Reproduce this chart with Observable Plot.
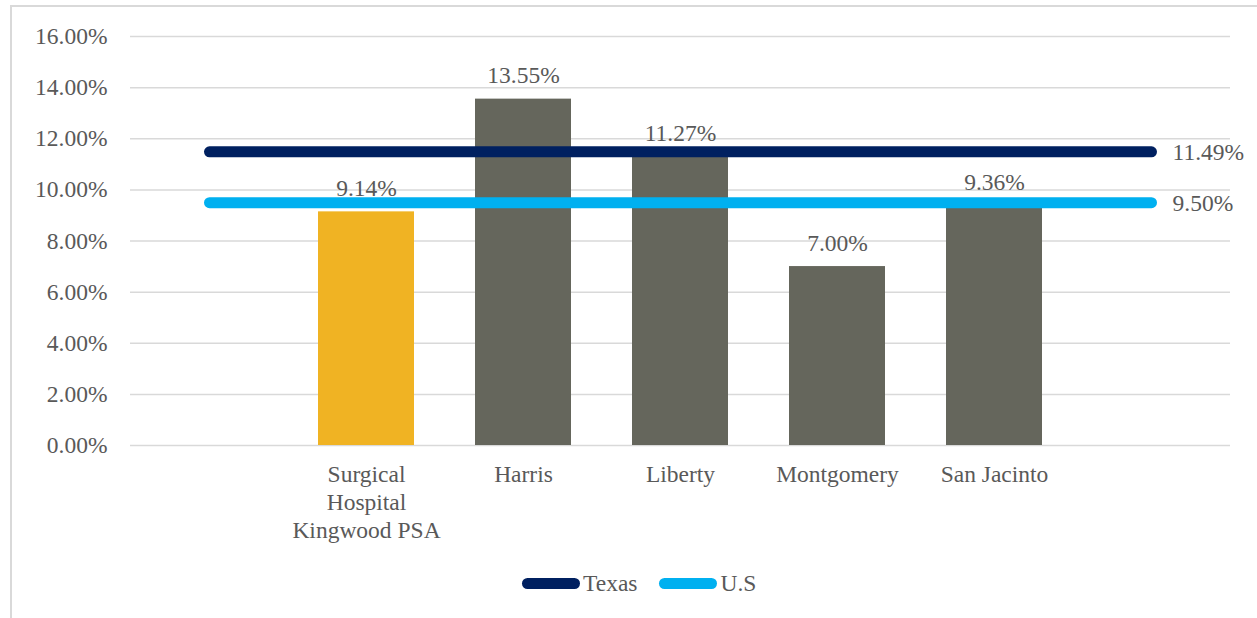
<!DOCTYPE html>
<html>
<head>
<meta charset="utf-8">
<script src="https://cdn.jsdelivr.net/npm/d3@7"></script>
<script src="https://cdn.jsdelivr.net/npm/@observablehq/plot@0.6"></script>
<style>
  html, body { margin: 0; padding: 0; background: #fff; overflow: hidden; }
  body { width: 1257px; height: 618px; position: relative; font-family: "Liberation Serif", serif; }
  #frame { position: absolute; left: 10px; top: 5px; width: 1260px; height: 640px; border: 2px solid #d9d9d9; box-sizing: border-box; }
  #chart { position: absolute; left: 0; top: 0; }
  #legend { position: absolute; left: 522px; top: 570px; display: flex; align-items: center; font-size: 23.5px; color: #595959; }
  .item { display: flex; align-items: center; margin-right: 22px; }
  .swatch { width: 58px; height: 11px; border-radius: 6px; margin-right: 3px; }
</style>
</head>
<body>
<div id="frame"></div>
<div id="chart"></div>
<div id="legend"></div>
<script>
// ---- data ----
const categories = ["Surgical\nHospital\nKingwood PSA", "Harris", "Liberty", "Montgomery", "San Jacinto"];
const values = [9.14, 13.55, 11.27, 7.00, 9.36];
const barColors = ["#F0B323", "#65665C", "#65665C", "#65665C", "#65665C"];
const padSlots = ["padLeft", "padRight"];
const seriesNames = ["Texas", "U.S"];
const seriesValues = [11.49, 9.50];
const seriesColors = ["#002060", "#00B0F0"];
const yTicks = [0, 2, 4, 6, 8, 10, 12, 14, 16];

// ---- derived tables ----
const bars = categories.map((c, i) => ({cat: c, value: values[i], color: barColors[i]}));
const lines = seriesNames.flatMap((s, i) => padSlots.map(p => ({series: s, cat: p, value: seriesValues[i], color: seriesColors[i]})));
const lineEnds = seriesNames.map((s, i) => ({series: s, cat: padSlots[1], value: seriesValues[i]}));
const pct = v => v.toFixed(2) + "%";
const textColor = "#595959";
const fs = 23.5;

const chart = Plot.plot({
  width: 1257,
  height: 560,
  marginLeft: 130,
  marginRight: 27,
  marginTop: 36,
  marginBottom: 115,
  style: {fontFamily: "'Liberation Serif', serif", fontSize: fs + "px", color: textColor, background: "transparent"},
  x: {domain: [padSlots[0], ...categories, padSlots[1]], paddingInner: 0.39, paddingOuter: 0.195, axis: null},
  y: {domain: [0, 16], axis: null},
  marks: [
    Plot.gridY(yTicks, {stroke: "#d9d9d9", strokeOpacity: 1, strokeWidth: 1.5}),
    Plot.axisY(yTicks, {tickSize: 0, tickPadding: 23, tickFormat: pct, fill: textColor, fontSize: fs, label: null}),
    Plot.barY(bars, {x: "cat", y: "value", fill: "color"}),
    ...seriesNames.map(s => Plot.lineY(lines.filter(d => d.series === s), {x: "cat", y: "value", stroke: "color", strokeWidth: 11, strokeLinecap: "round"})),
    Plot.text(bars, {x: "cat", y: "value", text: d => pct(d.value), lineAnchor: "bottom", dy: -16, fill: textColor, fontSize: fs}),
    Plot.text(lineEnds, {x: "cat", y: "value", text: d => pct(d.value), textAnchor: "start", dx: 21, dy: 1, fill: textColor, fontSize: fs}),
    Plot.text(bars, {x: "cat", y: () => 0, text: "cat", lineAnchor: "top", dy: 17, lineHeight: 1.19, fill: textColor, fontSize: fs})
  ]
});
document.getElementById("chart").appendChild(chart);

const legend = document.getElementById("legend");
seriesNames.forEach((s, i) => {
  const item = document.createElement("div");
  item.className = "item";
  const sw = document.createElement("div");
  sw.className = "swatch";
  sw.style.background = seriesColors[i];
  const label = document.createElement("span");
  label.textContent = s;
  item.appendChild(sw);
  item.appendChild(label);
  legend.appendChild(item);
});
</script>
</body>
</html>
